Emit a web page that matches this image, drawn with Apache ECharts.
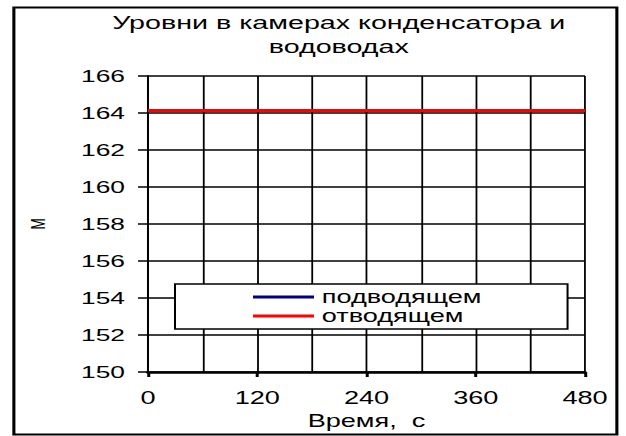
<!DOCTYPE html>
<html>
<head>
<meta charset="utf-8">
<script src="https://cdn.jsdelivr.net/npm/echarts@6/dist/echarts.min.js"></script>
<style>
html,body{margin:0;padding:0;background:#fff;overflow:hidden;width:626px;height:436px}
#c{width:404px;height:436px;transform:scaleX(1.54950);transform-origin:0 0}
</style>
</head>
<body>
<div id="c"></div>
<script>
var titleText = 'Уровни в камерах конденсатора и\nводоводах';
var xName = 'Время,  с';
var yName = 'М';
var seriesNames = ['подводящем', 'отводящем'];
var timeValues = [0, 60, 120, 180, 240, 300, 360, 420, 480];
var supplyLevels = [164.13, 164.13, 164.13, 164.13, 164.13, 164.13, 164.13, 164.13, 164.13];
var drainLevels = [164.13, 164.13, 164.13, 164.13, 164.13, 164.13, 164.13, 164.13, 164.13];

function pairs(xs, ys) { return xs.map(function (x, i) { return [x, ys[i]]; }); }

// The reference is horizontally stretched; the chart is laid out in a narrower
// box and stretched by CSS. K converts reference x-pixels to layout pixels.
var K = 626 / 404;
function hx(v) { return v / K; }

var font = 'Liberation Sans, Arial, sans-serif';
var chart = echarts.init(document.getElementById('c'), null, { renderer: 'svg' });
chart.setOption({
  animation: false,
  backgroundColor: '#fff',
  textStyle: { fontFamily: font, color: '#000' },
  title: {
    text: titleText, left: hx(331), top: 5, textAlign: 'center',
    textStyle: { fontFamily: font, fontSize: 18.5, fontWeight: 'normal', color: '#000', lineHeight: 24 }
  },
  graphic: [{
    type: 'rect', left: hx(10), top: 5, shape: { width: hx(603), height: 427 },
    style: { fill: 'none', stroke: '#000', lineWidth: 2 }, silent: true, z: 0
  }],
  grid: { left: hx(148), right: hx(41), top: 76, bottom: 64, containLabel: false, outerBoundsMode: 'none' },
  legend: {
    data: seriesNames, orient: 'vertical', left: hx(175), top: 284,
    padding: [4, 55.5, 4, hx(78)], itemGap: 1, itemWidth: hx(61), itemHeight: 3,
    icon: 'rect', backgroundColor: '#fff', borderColor: '#000', borderWidth: 1.3,
    borderRadius: 0,
    textStyle: { fontFamily: font, fontSize: 17.5, lineHeight: 18, color: '#000' },
    z: 10
  },
  xAxis: {
    type: 'value', min: 0, max: 480, interval: 120,
    name: xName, nameLocation: 'middle', nameGap: 33,
    nameTextStyle: { fontFamily: font, fontSize: 17.5, color: '#000' },
    axisLine: { show: true, onZero: false, lineStyle: { color: '#000', width: 2.5 } },
    axisTick: { show: true, length: 5, lineStyle: { color: '#000', width: hx(3) } },
    axisLabel: { fontFamily: font, fontSize: 17.5, color: '#000', margin: 17 },
    splitLine: { show: true, lineStyle: { color: '#000', width: hx(1.8) } },
    minorTick: { show: false, splitNumber: 2 },
    minorSplitLine: { show: true, lineStyle: { color: '#000', width: hx(1.8) } }
  },
  yAxis: {
    type: 'value', min: 150, max: 166, interval: 2,
    name: yName, nameLocation: 'middle', nameGap: 64, nameRotate: 90,
    nameTextStyle: { fontFamily: font, fontSize: 13.5, color: '#000' },
    axisLine: { show: true, lineStyle: { color: '#000', width: hx(2) } },
    axisTick: { show: true, length: hx(10), lineStyle: { color: '#000', width: 1.5 } },
    axisLabel: { fontFamily: font, fontSize: 17, color: '#000', margin: hx(23) },
    splitLine: { show: true, lineStyle: { color: '#000', width: 1.5 } }
  },
  series: [
    { name: seriesNames[0], type: 'line', data: pairs(timeValues, supplyLevels), showSymbol: false, symbol: 'none',
      lineStyle: { color: '#000080', width: 3 }, itemStyle: { color: '#000080' }, z: 3 },
    { name: seriesNames[1], type: 'line', data: pairs(timeValues, drainLevels), showSymbol: false, symbol: 'none',
      lineStyle: { color: '#ff0000', width: 3 }, itemStyle: { color: '#ff0000' }, z: 4 }
  ]
});
</script>
</body>
</html>
